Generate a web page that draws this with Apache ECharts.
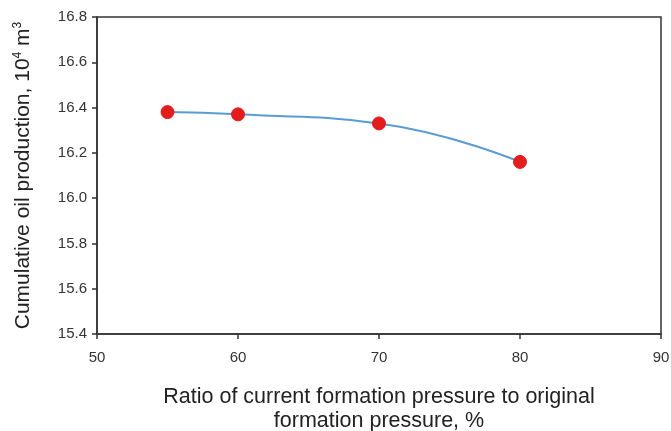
<!DOCTYPE html>
<html>
<head>
<meta charset="utf-8">
<script src="https://cdn.jsdelivr.net/npm/echarts@6/dist/echarts.min.js"></script>
<style>
  html, body { margin: 0; padding: 0; background: #fff; }
  #chart { width: 671px; height: 431px; }
</style>
</head>
<body>
<div id="chart"></div>
<script>
// Pressure ratio (%) against cumulative oil production (10^4 m^3)
const pressureRatio = [55, 60, 70, 80];
const cumulativeOil = [16.38, 16.37, 16.33, 16.16];
const xTicks = { min: 50, max: 90, interval: 10 };
const yTicks = { min: 15.4, max: 16.8, interval: 0.2 };

const font = 'Liberation Sans, Arial, sans-serif';
const chart = echarts.init(document.getElementById('chart'), null, { renderer: 'canvas' });

chart.setOption({
  backgroundColor: '#ffffff',
  animation: false,
  grid: {
    left: 97, right: 10, top: 17, bottom: 97,
    outerBoundsMode: 'none', containLabel: false,
    show: true, borderColor: '#333', borderWidth: 1.5, backgroundColor: 'transparent'
  },
  xAxis: {
    type: 'value',
    min: xTicks.min, max: xTicks.max, interval: xTicks.interval,
    name: 'Ratio of current formation pressure to original\nformation pressure, %',
    nameLocation: 'middle',
    nameGap: 51,
    nameTextStyle: { fontFamily: font, fontSize: 21.5, color: '#222', lineHeight: 24 },
    axisLine: { lineStyle: { color: '#333', width: 1.5 } },
    axisTick: { show: true, length: 5, lineStyle: { color: '#333', width: 1.5 } },
    axisLabel: { fontFamily: font, fontSize: 15, color: '#333', margin: 16 },
    splitLine: { show: false }
  },
  yAxis: {
    type: 'value',
    min: yTicks.min, max: yTicks.max, interval: yTicks.interval,
    name: '{n|Cumulative oil production, 10}{s|4}{n| m}{s|3}',
    nameLocation: 'middle',
    nameGap: 63,
    nameTextStyle: {
      fontFamily: font, color: '#222',
      rich: {
        n: { fontFamily: font, fontSize: 21, color: '#222' },
        s: { fontFamily: font, fontSize: 12, color: '#222', verticalAlign: 'top', padding: [0, 0, 10, 0] }
      }
    },
    axisLine: { show: true, lineStyle: { color: '#333', width: 1.5 } },
    axisTick: { show: true, length: 5, lineStyle: { color: '#333', width: 1.5 } },
    axisLabel: { fontFamily: font, fontSize: 15, color: '#333', margin: 10, formatter: v => v.toFixed(1) },
    splitLine: { show: false }
  },
  series: [{
    type: 'line',
    data: pressureRatio.map((x, i) => [x, cumulativeOil[i]]),
    smooth: 0.5,
    symbol: 'circle',
    symbolSize: 13,
    lineStyle: { color: '#5b9bd5', width: 2 },
    itemStyle: { color: '#e31c1c', borderColor: '#e31c1c' }
  }]
});
</script>
</body>
</html>
